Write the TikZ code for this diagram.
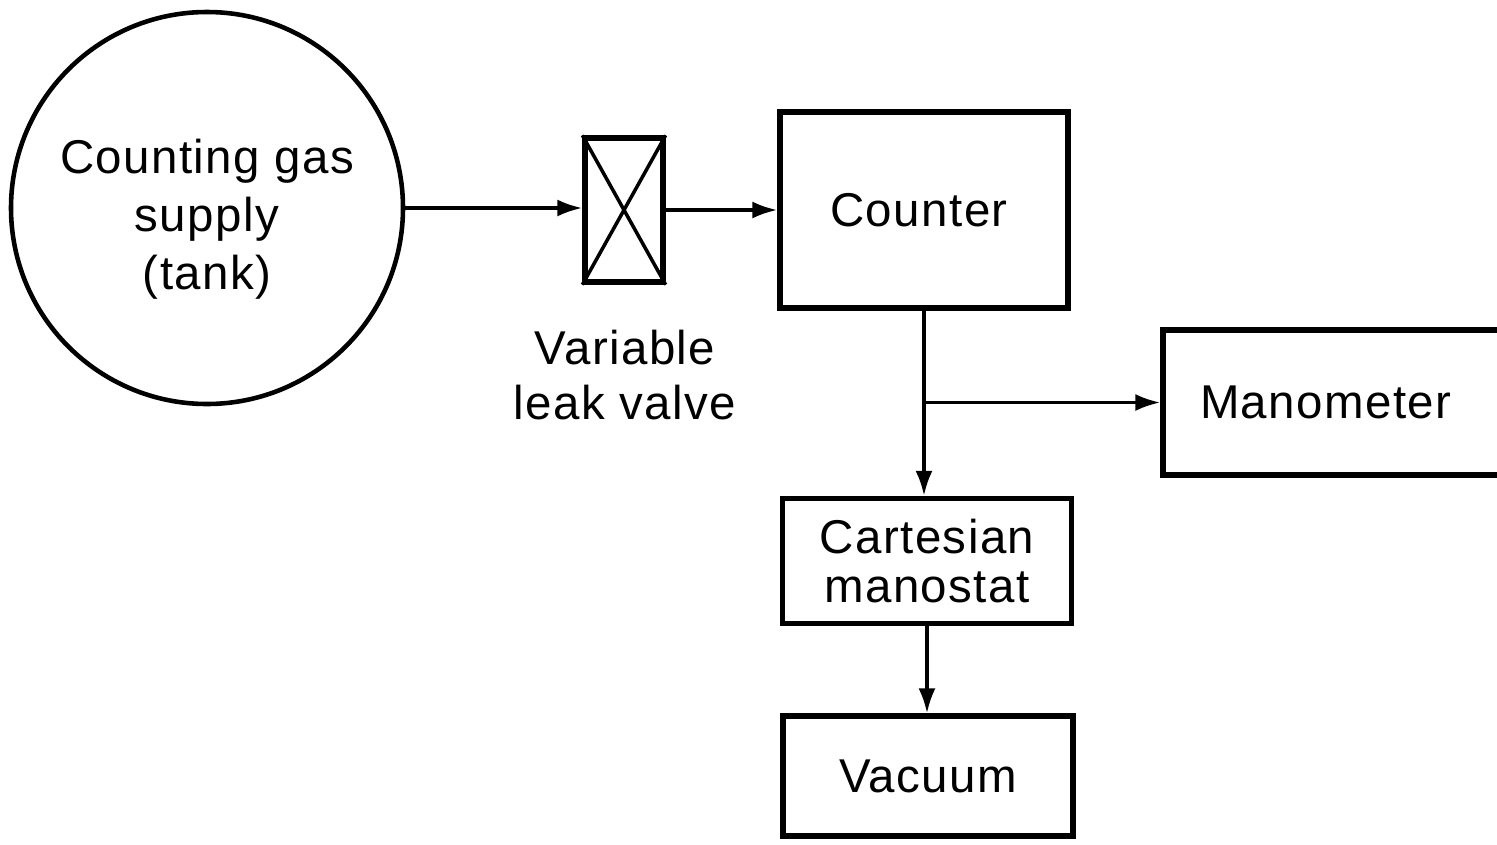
\documentclass[tikz,border=0pt]{standalone}
\usepackage{fontspec}
\setmainfont{Liberation Sans}[LetterSpace=3]
\usepackage{tikz}
\usetikzlibrary{positioning,arrows.meta,calc}

\begin{document}
\begin{tikzpicture}[
    block/.style={draw=black, line width=3pt, minimum width=#1, font=\fontsize{27}{33}\selectfont, align=center, inner sep=0pt},
    block/.default={5.8cm},
    tank/.style={draw=black, line width=2.6pt, circle, minimum size=7.84cm, font=\fontsize{27}{33}\selectfont, align=center, inner sep=0pt},
    lbl/.style={font=\fontsize{27}{31}\selectfont, align=center},
    arr/.style={-{Latex[length=0.5cm,width=0.34cm]}, line width=2pt},
    line/.style={line width=2pt},
]
\useasboundingbox (0,0) rectangle (29.94,-16.88);

\node[tank] (tank) at (4.14,-4.16) {\rule{0pt}{1.15cm}Counting gas\\supply\\(tank)};

\node[block=1.56cm, minimum height=2.88cm] (valve) at (12.48,-4.2) {};
\draw[line] (valve.north west) -- (valve.south east);
\draw[line] (valve.south west) -- (valve.north east);
\node[lbl] (valvelbl) at (12.5,-7.5) {Variable\\leak valve};

\node[block=5.76cm, minimum height=3.92cm] (counter) at (18.48,-4.2) {Counter\kern0.2cm};
% Manometer box runs off the right edge
\node[block=6.76cm, minimum height=2.9cm, draw=none, outer sep=0pt] (manometer) at (26.64,-8.05) {Manometer\kern0.25cm};
\draw[line width=3pt] ([xshift=1cm]manometer.north east) -- (manometer.north west)
    -- (manometer.south west) -- ([xshift=1cm]manometer.south east);
\node[block=5.78cm, minimum height=2.5cm, font=\fontsize{27}{28}\selectfont] (manostat) at (18.54,-11.22) {Cartesian\\manostat};
\node[block=5.8cm, minimum height=2.4cm] (vacuum) at (18.56,-15.52) {Vacuum};

% ===== ARROWS =====
\draw[arr] (tank.east) -- (tank.east -| valve.west);
\draw[arr] (valve.east) -- (counter.west);
\draw[arr] (counter.south) -- (counter.south |- manostat.north);
\coordinate (branch) at (counter.south |- manometer.west);
\draw[arr] (branch) -- ([xshift=-1.5pt]manometer.west);
\draw[arr] (manostat.south) -- (manostat.south |- vacuum.north);

\end{tikzpicture}
\end{document}
